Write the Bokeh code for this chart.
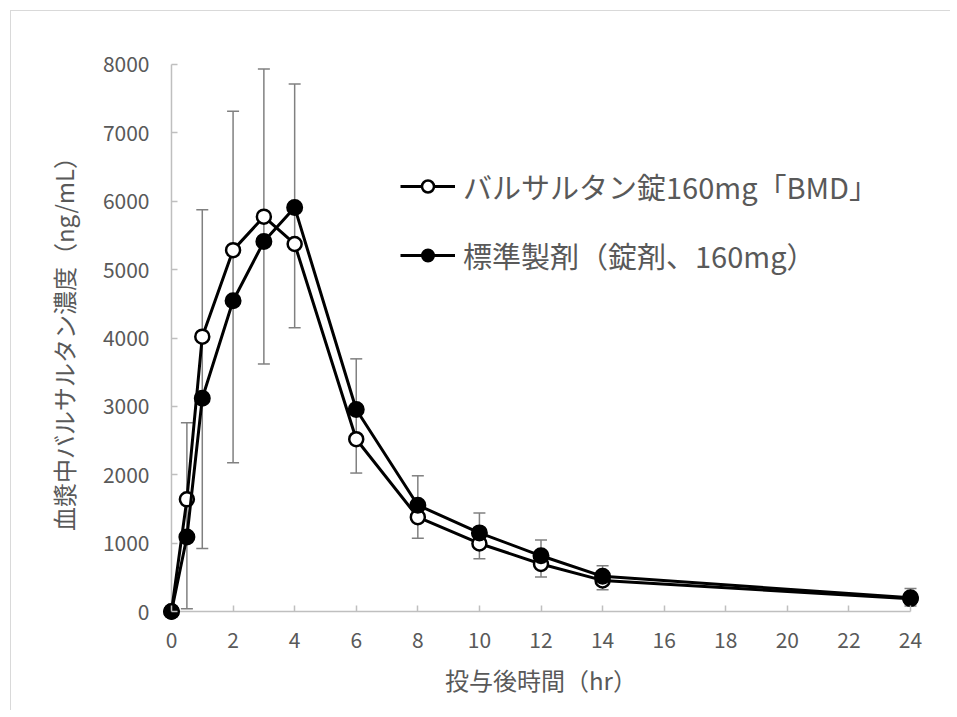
from bokeh.plotting import figure
from bokeh.models import (ColumnDataSource, Whisker, TeeHead, Legend, LegendItem, FixedTicker,
                          Range1d, LinearAxis)
from bokeh.embed import file_html
from bokeh.resources import INLINE

# ---- data ----
time_hr = [0, 0.5, 1, 2, 3, 4, 6, 8, 10, 12, 14, 24]
test_conc = [0, 1640, 4020, 5285, 5775, 5375, 2520, 1380, 995, 695, 455, 185]
ref_conc = [0, 1090, 3120, 4545, 5410, 5910, 2955, 1555, 1150, 815, 515, 200]
err_top = [0, 2760, 5875, 7315, 7935, 7715, 3695, 1985, 1440, 1045, 670, 335]
err_bottom = [0, 40, 920, 2175, 3620, 4150, 2025, 1070, 770, 505, 320, 80]
x_ticks = [0, 2, 4, 6, 8, 10, 12, 14, 16, 18, 20, 22, 24]
y_ticks = [0, 1000, 2000, 3000, 4000, 5000, 6000, 7000, 8000]
label_test = "バルサルタン錠160mg「BMD」"
label_ref = "標準製剤（錠剤、160mg）"
x_title = "投与後時間（hr）"
y_title = "血漿中バルサルタン濃度（ng/mL）"

FONT = "Noto Sans CJK JP"
TXT = "#595959"
AX = "#bfbfbf"

W, H = 940, 700
p = figure(width=W, height=H, output_backend="svg", toolbar_location=None,
           x_range=Range1d(-0.292, 24.292), y_range=Range1d(-146, 8146),
           min_border_left=151, min_border_right=32, min_border_top=43, min_border_bottom=90)
p.styles = {"border-top": "1px solid #d9d9d9", "border-left": "1px solid #d9d9d9",
            "margin-left": "10px", "margin-top": "10px"}
p.outline_line_color = None
p.xgrid.grid_line_color = None
p.ygrid.grid_line_color = None
p.background_fill_color = "white"
p.border_fill_color = "white"

# label axes at the frame edges: labels and titles only
for ax in (p.xaxis[0], p.yaxis[0]):
    ax.axis_line_color = None
    ax.major_tick_line_color = None
    ax.minor_tick_line_color = None
    ax.major_tick_in = 0
    ax.major_tick_out = 0
    ax.major_label_text_font = FONT
    ax.major_label_text_font_size = "21px"
    ax.major_label_text_color = TXT
    ax.axis_label_text_font = FONT
    ax.axis_label_text_color = TXT
    ax.axis_label_text_font_style = "normal"
p.xaxis[0].ticker = FixedTicker(ticks=x_ticks)
p.yaxis[0].ticker = FixedTicker(ticks=y_ticks)
p.xaxis[0].major_label_standoff = 10
p.yaxis[0].major_label_standoff = 13
p.xaxis[0].axis_label = x_title
p.yaxis[0].axis_label = y_title
p.xaxis[0].axis_label_text_font_size = "24px"
p.yaxis[0].axis_label_text_font_size = "24px"
p.xaxis[0].axis_label_standoff = 11
p.yaxis[0].axis_label_standoff = 19

# tick axes at the data origin: inward ticks only
xt = LinearAxis(ticker=FixedTicker(ticks=x_ticks), fixed_location=y_ticks[0],
                axis_line_color=None, major_tick_line_color=AX, major_tick_line_width=1.5,
                major_tick_in=6, major_tick_out=0, minor_tick_line_color=None,
                major_label_text_alpha=0)
yt = LinearAxis(ticker=FixedTicker(ticks=y_ticks), fixed_location=x_ticks[0],
                axis_line_color=None, major_tick_line_color=AX, major_tick_line_width=1.5,
                major_tick_in=6, major_tick_out=0, minor_tick_line_color=None,
                major_label_text_alpha=0)
p.add_layout(xt, "below")
p.add_layout(yt, "left")

# axis lines limited to the data range
p.segment(x0=[x_ticks[0], x_ticks[0]], y0=[y_ticks[0], y_ticks[0]],
          x1=[x_ticks[-1], x_ticks[0]], y1=[y_ticks[0], y_ticks[-1]],
          line_color=AX, line_width=1.5)

src_err = ColumnDataSource(dict(x=time_hr[1:], top=err_top[1:], bottom=err_bottom[1:]))
wh = Whisker(source=src_err, base="x", upper="top", lower="bottom", dimension="height",
             line_color="#808080", line_width=1.5, level="underlay",
             upper_head=TeeHead(size=12, line_color="#808080", line_width=1.5),
             lower_head=TeeHead(size=12, line_color="#808080", line_width=1.5))
p.add_layout(wh)

src_t = ColumnDataSource(dict(x=time_hr, y=test_conc))
src_r = ColumnDataSource(dict(x=time_hr, y=ref_conc))

lt = p.line("x", "y", source=src_t, line_color="black", line_width=3)
st = p.scatter("x", "y", source=src_t, size=14, marker="circle", fill_color="white",
               line_color="black", line_width=2.5)
lr = p.line("x", "y", source=src_r, line_color="black", line_width=3)
sr = p.scatter("x", "y", source=src_r, size=15, marker="circle", fill_color="black",
               line_color="black", line_width=2)

legend = Legend(items=[LegendItem(label=label_test, renderers=[lt, st]),
                       LegendItem(label=label_ref, renderers=[lr, sr])],
                location=(238, 345), orientation="vertical",
                border_line_color=None, background_fill_alpha=0,
                padding=0, margin=0, spacing=27,
                glyph_width=55, glyph_height=30, label_height=30,
                label_standoff=8, label_text_font=FONT, label_text_font_size="29px",
                label_text_color=TXT)
p.add_layout(legend, "center")

open("out.html", "w").write(file_html(p, INLINE))
